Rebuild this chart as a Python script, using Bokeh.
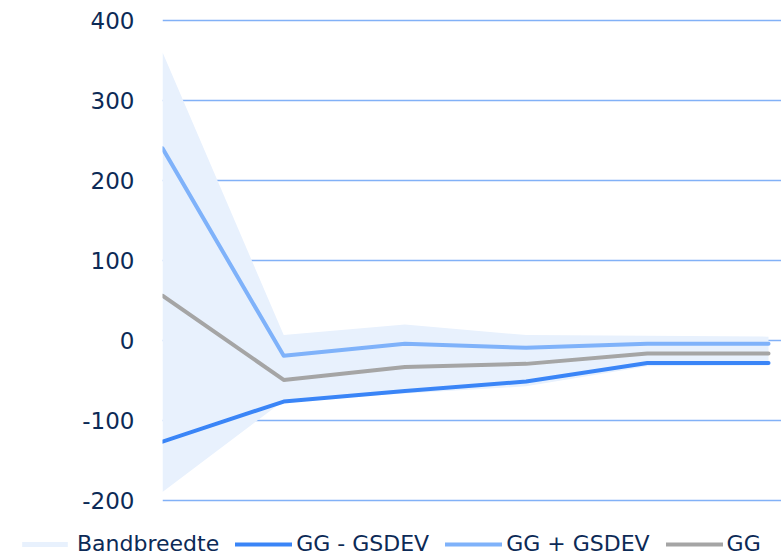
from bokeh.plotting import figure
from bokeh.layouts import column
from bokeh.models import Range1d, Legend, LegendItem, FixedTicker, ColumnDataSource, NumeralTickFormatter
from bokeh.embed import file_html
from bokeh.resources import INLINE

# Data
x_idx = [0, 1, 2, 3, 4, 5]
band_top = [360, 7, 20, 7, 6, 5]
band_bottom = [-189, -75, -66, -57, -32, -31]
gg_minus = [-126, -76, -63, -51, -28, -28]
gg_plus = [240, -19, -4, -9, -4, -4]
gg = [56, -49, -33, -29, -16, -16]
y_ticks = [-200, -100, 0, 100, 200, 300, 400]
series_names = ["Bandbreedte", "GG - GSDEV", "GG + GSDEV", "GG"]
band_color = "#e8f1fd"
minus_color = "#3a85f7"
plus_color = "#7fb2fa"
gg_color = "#a5a5a5"
text_color = "#0c2a56"

src = ColumnDataSource(dict(x=x_idx, top=band_top, bottom=band_bottom,
                            minus=gg_minus, plus=gg_plus, gg=gg))
line_kw = dict(line_width=4, line_cap="round", line_join="round")


def draw_series(fig):
    rs = [fig.varea(x="x", y1="bottom", y2="top", source=src, fill_color=band_color),
          fig.line(x="x", y="minus", source=src, line_color=minus_color, **line_kw),
          fig.line(x="x", y="plus", source=src, line_color=plus_color, **line_kw),
          fig.line(x="x", y="gg", source=src, line_color=gg_color, **line_kw)]
    return rs


p = figure(width=781, height=520, output_backend="svg", toolbar_location=None,
           x_range=Range1d(0, 5.107), y_range=Range1d(-202, 402),
           x_axis_type=None, min_border_left=162, min_border_right=0,
           min_border_top=18, min_border_bottom=18)
p.frame_align = False
p.outline_line_color = None
draw_series(p)

p.yaxis.ticker = FixedTicker(ticks=y_ticks)
p.yaxis.formatter = NumeralTickFormatter(format="0")
p.yaxis.axis_line_color = None
p.yaxis.major_tick_line_color = None
p.yaxis.minor_tick_line_color = None
p.yaxis.major_tick_out = 0
p.yaxis.major_tick_in = 0
p.yaxis.major_label_text_font = "DejaVu Sans"
p.yaxis.major_label_text_font_size = "23px"
p.yaxis.major_label_text_color = text_color
p.yaxis.major_label_standoff = 28
p.ygrid.grid_line_color = "#82b1f7"
p.ygrid.grid_line_width = 1.6
p.xgrid.grid_line_color = None

# Legend strip: a second figure whose frame spans the full width,
# its view ranges placed so the series themselves stay out of sight.
lg = figure(width=781, height=36, output_backend="svg", toolbar_location=None,
            x_axis_type=None, y_axis_type=None, min_border=0,
            min_border_left=0, min_border_right=0, min_border_top=0, min_border_bottom=0,
            x_range=Range1d(0, 1), y_range=Range1d(1000, 1001))
lg.frame_align = False
lg.outline_line_color = None
lg.xgrid.grid_line_color = None
lg.ygrid.grid_line_color = None
legend_renderers = draw_series(lg)

legend = Legend(items=[LegendItem(label=n, renderers=[r]) for n, r in
                       zip(series_names, legend_renderers)],
                orientation="horizontal", location=(16, 0))
legend.padding = 0
legend.margin = 0
legend.spacing = 16
legend.glyph_width = 57
legend.glyph_height = 6
legend.label_standoff = 4
legend.label_text_font = "DejaVu Sans"
legend.label_text_font_size = "22px"
legend.label_text_color = text_color
legend.background_fill_alpha = 0
legend.border_line_color = None
lg.add_layout(legend, "center")

layout = column(p, lg, spacing=0)
open("out.html", "w").write(file_html(layout, INLINE))
